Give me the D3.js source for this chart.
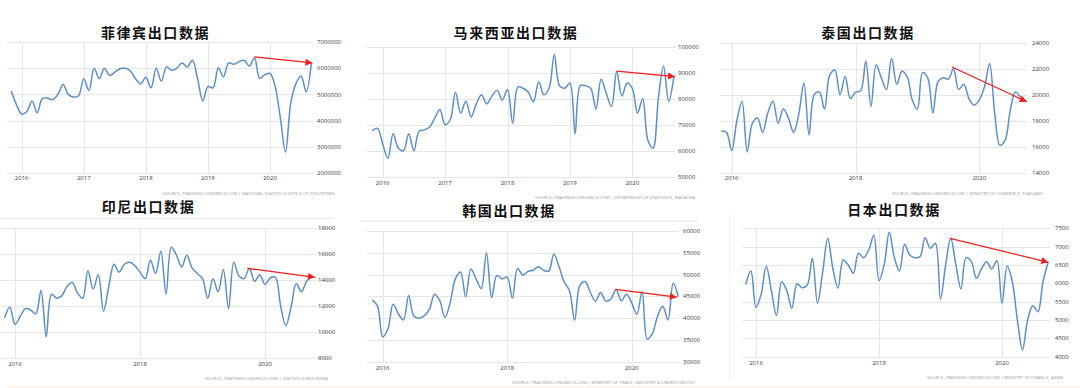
<!DOCTYPE html>
<meta charset="utf-8">
<style>
body { margin: 0; background: #fff; }
svg { display: block; }
.grid line { stroke: #e6e6e6; stroke-width: 1; shape-rendering: crispEdges; }
.tick-label { font-family: "Open Sans", "DejaVu Sans", sans-serif; font-size: 6px; fill: #3a3a48; }
.src { font-family: "Open Sans", "DejaVu Sans", sans-serif; font-size: 4.3px; fill: #9a9a9a; }
.title { font-family: "Noto Sans CJK SC", sans-serif; font-size: 14px; font-weight: 600; fill: #111; letter-spacing: 1.6px; }
.series { fill: none; stroke: #5b8fc7; stroke-width: 1.5; }
.arrow { stroke: #f21d1d; stroke-width: 1.3; }
</style>
<svg width="1080" height="388"></svg>
<script src="https://d3js.org/d3.v7.min.js"></script>
<script>
// monthly exports, first value = Nov 2015 (month index -2, Jan 2016 = 0)
var phValues = [5130000,4600000,4250000,4350000,4750000,4300000,4850000,4850000,4800000,5000000,5380000,5000000,4900000,4950000,
  5600000,5150000,6000000,5600000,6000000,5720000,5850000,5980000,6000000,5900000,5600000,5400000,
  5650000,5250000,6000000,5500000,6050000,5920000,6000000,6200000,6050000,6300000,5600000,4750000,
  5300000,5250000,6020000,5670000,6200000,6150000,6250000,6300000,6080000,6400000,5620000,5750000,
  5800000,5300000,4100000,2800000,4650000,5400000,5700000,5100000,6200000];
var myValues = [67700,68600,62500,57000,66500,61000,60000,66500,60000,67500,68000,69000,72500,75800,
  70000,72000,82500,74500,79000,73000,78000,81500,78000,81000,83200,79500,
  83500,70500,84500,84000,82500,78800,86500,81500,84000,97000,85000,84000,
  86000,66500,85000,85000,84000,76000,87500,82000,77000,90500,81000,86000,
  84000,74500,80000,64000,61000,80000,92500,79000,88500];
var thValues = [17200,17100,15700,18000,19500,15600,17800,18200,17100,18600,19500,17800,18900,18200,
  17100,18500,20900,16900,20000,20200,18900,21500,21900,20000,21400,19700,
  20200,20300,22600,19100,22300,21300,20400,22800,20800,21800,21400,19600,
  18900,21700,21300,18600,21000,21300,21200,22000,20400,20800,19700,19200,
  19600,20600,22400,18500,16100,16500,18800,20200,19800];
var idValues = [11100,11900,10600,11200,11800,11700,11400,13200,9650,12900,12600,12800,13500,13800,
  13000,12600,14700,13300,14400,11600,13500,15200,14600,15200,15350,15100,
  14600,14100,15500,14500,16200,12900,16500,15900,15000,15900,14900,14500,
  14100,12600,14100,13100,14800,11800,15350,14300,14100,14900,13900,14400,
  13650,14150,14200,12000,10500,11900,13700,13100,13900,14250];
var krValues = [44200,42800,35700,37500,43200,41000,39600,45200,40500,40000,40500,42000,45500,44000,
  40200,43500,49000,50600,44900,51300,49000,46800,55000,44700,49800,49000,
  49400,44600,51400,49900,50700,51000,51800,51000,50800,54700,51800,48300,
  46300,39500,47500,48400,46000,43900,45900,43900,44400,46600,44000,45500,
  43500,40900,46100,35200,36500,40500,42700,39600,48000,44900];
var jpValues = [5973,6336,5345,5700,6473,5800,5118,6045,5800,5318,5990,5880,5955,6682,
  5455,6300,7227,6400,5864,6636,6500,6273,6818,6700,6909,7318,
  6073,6500,7391,6700,6336,7064,6773,6700,6727,7245,6955,7091,
  5573,6500,7227,6500,5845,6700,6600,6136,6400,6591,6391,6618,
  5455,6473,6050,5000,4182,5000,5391,5227,6045,6573];

var phTicks = [2000000,3000000,4000000,5000000,6000000,7000000];
var myTicks = [50000,60000,70000,80000,90000,100000];
var thTicks = [14000,16000,18000,20000,22000,24000];
var idTicks = [8000,10000,12000,14000,16000,18000];
var krTicks = [30000,35000,40000,45000,50000,55000,60000];
var jpTicks = [4000,4500,5000,5500,6000,6500,7000,7500];

var everyYear = [2016,2017,2018,2019,2020];
var everyOther = [2016,2018,2020];

// red trend arrows: [month index, value] -> [month index, value]
var phArrow = [[45, 6430000], [56.2, 6200000]];
var myArrow = [[45, 90600], [56.2, 88500]];
var thArrow = [[42.7, 22130], [57.2, 19460]];
var idArrow = [[44.6, 14890], [57.6, 14200]];
var krArrow = [[44.8, 46600], [56.7, 44800]];
var jpArrow = [[37.85, 7227], [57.05, 6573]];

var titles = ["菲律宾出口数据", "马来西亚出口数据", "泰国出口数据", "印尼出口数据", "韩国出口数据", "日本出口数据"];
var sources = [
  "SOURCE: TRADINGECONOMICS.COM  |  NATIONAL STATISTICS OFFICE OF PHILIPPINES",
  "SOURCE: TRADINGECONOMICS.COM  |  DEPARTMENT OF STATISTICS, MALAYSIA",
  "SOURCE: TRADINGECONOMICS.COM  |  MINISTRY OF COMMERCE, THAILAND",
  "SOURCE: TRADINGECONOMICS.COM  |  STATISTICS INDONESIA",
  "SOURCE: TRADINGECONOMICS.COM  |  MINISTRY OF TRADE, INDUSTRY & ENERGY (MOTIE)",
  "SOURCE: TRADINGECONOMICS.COM  |  MINISTRY OF FINANCE, JAPAN"
];

var panels = [
  {values: phValues, ticks: phTicks, years: everyYear, arrow: phArrow,
   gl: 7, gr: 313, x16: 21.7, x20: 270, yt: 42, yb: 173, lx: 317, xly: 178,
   tx: 155.5, ty: 33, sx0: 163, sx1: 335, sy: 193},
  {values: myValues, ticks: myTicks, years: everyYear, arrow: myArrow,
   gl: 367, gr: 675, x16: 382.7, x20: 632.3, yt: 46.7, yb: 176.7, lx: 678, xly: 182.7,
   tx: 516, ty: 33, sx0: 535, sx1: 695, sy: 197.5},
  {values: thValues, ticks: thTicks, years: everyOther, arrow: thArrow,
   gl: 720, gr: 1027, x16: 731.7, x20: 979.3, yt: 42.7, yb: 172.7, lx: 1032, xly: 178,
   tx: 868, ty: 33, sx0: 892, sx1: 1043, sy: 193},
  {values: idValues, ticks: idTicks, years: everyOther, arrow: idArrow,
   gl: 0, gr: 333, x16: 15, x20: 265, yt: 227.7, yb: 358.3, lx: 318, xly: 364,
   tx: 148.5, ty: 207.5, sx0: 205, sx1: 328, sy: 378.3, topLine: [0, 333, 218.3]},
  {values: krValues, ticks: krTicks, years: everyOther, arrow: krArrow,
   gl: 367, gr: 678, x16: 382.7, x20: 631.7, yt: 231, yb: 361.7, lx: 683, xly: 367.7,
   tx: 509, ty: 211, sx0: 512, sx1: 695, sy: 382.3, topLine: [360, 698, 221]},
  {values: jpValues, ticks: jpTicks, years: everyOther, arrow: jpArrow,
   gl: 741.7, gr: 1050, x16: 756, x20: 1002, yt: 228.3, yb: 356.7, lx: 1055, xly: 362.7,
   tx: 894, ty: 210, sx0: 927, sx1: 1063, sy: 377}
];

var svg = d3.select("svg");

svg.append("defs").append("marker")
    .attr("id", "head")
    .attr("viewBox", "0 0 10 10")
    .attr("refX", 10).attr("refY", 5)
    .attr("markerUnits", "userSpaceOnUse")
    .attr("markerWidth", 8).attr("markerHeight", 7)
    .attr("orient", "auto")
  .append("path")
    .attr("d", "M0,0L10,5L0,10Z")
    .attr("fill", "#f21d1d");

// decorative separators of the collage
svg.append("line").attr("x1", 730).attr("x2", 730).attr("y1", 215).attr("y2", 381)
    .attr("stroke", "#eeeeee");
svg.append("line").attr("x1", 8).attr("x2", 1080).attr("y1", 387).attr("y2", 387)
    .attr("stroke", "#fce8cf").attr("stroke-width", 1.2);

panels.forEach(function(p, i) {
  var x = d3.scaleLinear().domain([0, 48]).range([p.x16, p.x20]);
  var y = d3.scaleLinear().domain(d3.extent(p.ticks)).range([p.yb, p.yt]);
  var g = svg.append("g");

  if (p.topLine) {
    g.append("line").attr("x1", p.topLine[0]).attr("x2", p.topLine[1])
        .attr("y1", p.topLine[2]).attr("y2", p.topLine[2])
        .attr("stroke", "#e4e4e4");
  }

  var grid = g.append("g").attr("class", "grid");
  grid.selectAll("line.h").data(p.ticks).enter().append("line")
      .attr("class", "h")
      .attr("x1", p.gl).attr("x2", p.gr)
      .attr("y1", function(d) { return Math.round(y(d)) + 0.5; })
      .attr("y2", function(d) { return Math.round(y(d)) + 0.5; });
  grid.selectAll("line.v").data(p.years).enter().append("line")
      .attr("class", "v")
      .attr("x1", function(d) { return Math.round(x((d - 2016) * 12)) + 0.5; })
      .attr("x2", function(d) { return Math.round(x((d - 2016) * 12)) + 0.5; })
      .attr("y1", p.yt).attr("y2", p.yb);

  g.selectAll("text.yl").data(p.ticks).enter().append("text")
      .attr("class", "tick-label yl")
      .attr("x", p.lx).attr("y", function(d) { return y(d); })
      .attr("dy", "0.35em")
      .text(function(d) { return d; });
  g.selectAll("text.xl").data(p.years).enter().append("text")
      .attr("class", "tick-label xl")
      .attr("x", function(d) { return x((d - 2016) * 12); })
      .attr("y", p.xly).attr("dy", "0.35em")
      .attr("text-anchor", "middle")
      .text(function(d) { return d; });

  var line = d3.line()
      .x(function(d, k) { return x(k - 2); })
      .y(function(d) { return y(d); })
      .curve(d3.curveCatmullRom.alpha(0.5));
  g.append("path").attr("class", "series").attr("d", line(p.values));

  g.append("line").attr("class", "arrow")
      .attr("x1", x(p.arrow[0][0])).attr("y1", y(p.arrow[0][1]))
      .attr("x2", x(p.arrow[1][0])).attr("y2", y(p.arrow[1][1]))
      .attr("marker-end", "url(#head)");

  g.append("text").attr("class", "title")
      .attr("x", p.tx).attr("y", p.ty).attr("dy", "0.35em")
      .attr("text-anchor", "middle")
      .text(titles[i]);

  g.append("text").attr("class", "src")
      .attr("x", p.sx0).attr("y", p.sy).attr("dy", "0.35em")
      .attr("textLength", p.sx1 - p.sx0).attr("lengthAdjust", "spacingAndGlyphs")
      .text(sources[i]);
});
</script>
